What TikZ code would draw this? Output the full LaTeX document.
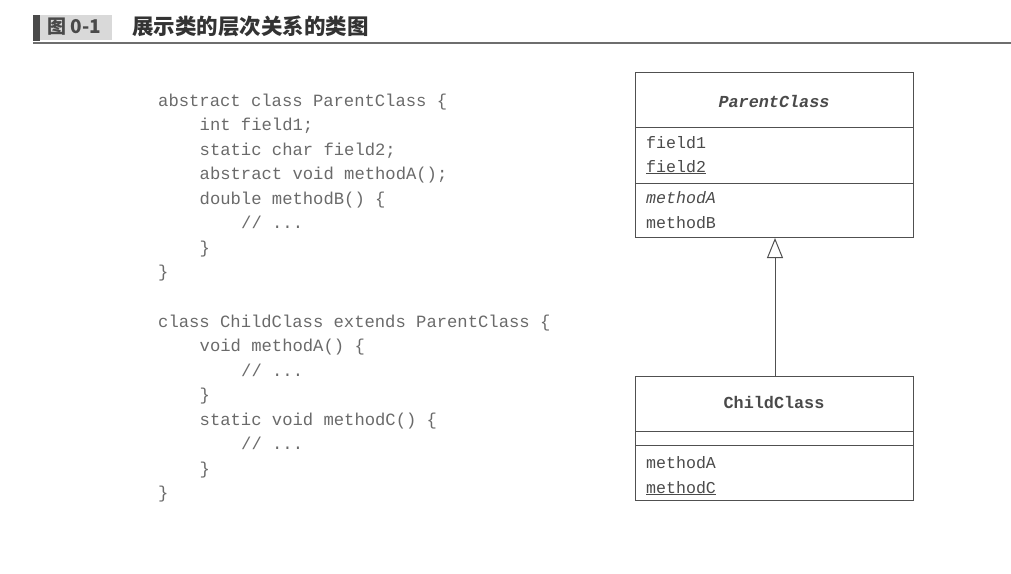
\documentclass[tikz,border=0pt]{standalone}
\usepackage{fontspec}
\usetikzlibrary{arrows.meta}
\newfontfamily\codefont{Liberation Mono}
\newfontfamily\cjk{Noto Sans CJK SC}
\definecolor{codegray}{HTML}{6A6A6A}
\definecolor{boxtext}{HTML}{4A4A4A}
\definecolor{boxline}{HTML}{505050}
\definecolor{hdrgray}{HTML}{D9D9D9}
\definecolor{hdrdark}{HTML}{4A4A4A}
\tikzset{
  codeline/.style={anchor=base west, inner sep=0pt, font=\codefont\fontsize{17.2}{20}\selectfont, text=codegray},
  member/.style={anchor=base west, inner sep=0pt, font=\codefont\fontsize{16.6}{20}\selectfont, text=boxtext},
  classname/.style={anchor=base, inner sep=0pt, font=\codefont\bfseries\fontsize{16.8}{20}\selectfont, text=boxtext},
  umlbox/.style={draw=boxline, line width=1pt, anchor=north west, minimum width=278pt, inner sep=0pt},
  divider/.style={draw=boxline, line width=1pt},
  inherit/.style={draw=boxline, line width=1pt, -{Triangle[open, length=20pt, width=16pt, line width=1pt]}}
}
\begin{document}
\begin{tikzpicture}[x=1pt, y=-1pt]
\useasboundingbox (0,0) rectangle (1011,573);
% header
\fill[hdrgray] (40,15) rectangle (112,40);
\fill[hdrdark] (33,15) rectangle (40,41);
\draw[draw=hdrdark!80, line width=1.5pt] (33,43) -- (1011,43);
\node[anchor=west, inner sep=0pt, font=\cjk\bfseries\fontsize{19}{22}\selectfont, text=hdrdark] (fig) at (47,27) {图 0-1};
\node[anchor=west, inner sep=0pt, font=\cjk\bfseries\fontsize{21.5}{24}\selectfont, text=black!80] (title) at (132,26) {展示类的层次关系的类图};
% code
\def\lh{24.56}
\node[codeline] (c0) at (158,{101+5+0*\lh}) {abstract class ParentClass \{};
\node[codeline] (c1) at (199.5,{106+1*\lh}) {int field1;};
\node[codeline] (c2) at (199.5,{106+2*\lh}) {static char field2;};
\node[codeline] (c3) at (199.5,{106+3*\lh}) {abstract void methodA();};
\node[codeline] (c4) at (199.5,{106+4*\lh}) {double methodB() \{};
\node[codeline] (c5) at (241,{106+5*\lh}) {// ...};
\node[codeline] (c6) at (199.5,{106+6*\lh}) {\}};
\node[codeline] (c7) at (158,{106+7*\lh}) {\}};
\node[codeline] (c9) at (158,{106+9*\lh}) {class ChildClass extends ParentClass \{};
\node[codeline] (c10) at (199.5,{106+10*\lh}) {void methodA() \{};
\node[codeline] (c11) at (241,{106+11*\lh}) {// ...};
\node[codeline] (c12) at (199.5,{106+12*\lh}) {\}};
\node[codeline] (c13) at (199.5,{106+13*\lh}) {static void methodC() \{};
\node[codeline] (c14) at (241,{106+14*\lh}) {// ...};
\node[codeline] (c15) at (199.5,{106+15*\lh}) {\}};
\node[codeline] (c16) at (158,{106+16*\lh}) {\}};
% Parent class box
\node[umlbox, minimum height=165pt] (parent) at (635,72) {};
\draw[divider] (635,127) -- (913,127);
\draw[divider] (635,183) -- (913,183);
\node[classname, font=\codefont\bfseries\itshape\fontsize{16.8}{20}\selectfont] (pname) at (774,107) {ParentClass};
\node[member] (f1) at (646,148) {field1};
\node[member] (f2) at (646,172) {\underline{field2}};
\node[member, font=\codefont\itshape\fontsize{16.6}{20}\selectfont] (mA) at (646,203) {methodA};
\node[member] (mB) at (646,228) {methodB};
% Child class box
\node[umlbox, minimum height=124pt] (child) at (635,376) {};
\draw[divider] (635,431) -- (913,431);
\draw[divider] (635,445) -- (913,445);
\node[classname] (cname) at (774,408) {ChildClass};
\node[member] (cmA) at (646,468) {methodA};
\node[member] (cmC) at (646,493) {\underline{methodC}};
% inheritance
\draw[inherit] (child.north -| 775,0) -- (parent.south -| 775,0);
\end{tikzpicture}
\end{document}
